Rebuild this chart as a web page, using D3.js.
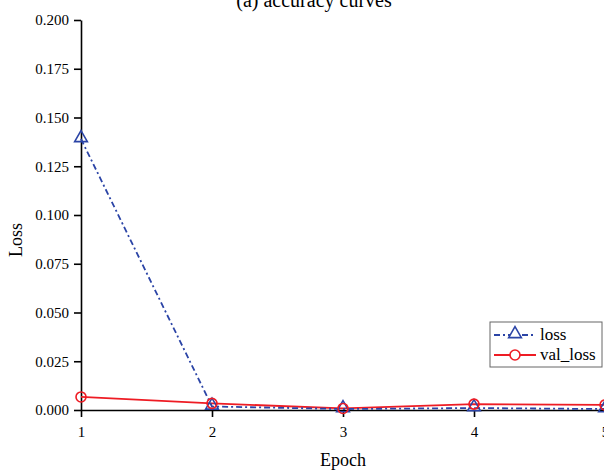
<!DOCTYPE html>
<html>
<head>
<meta charset="utf-8">
<script src="https://cdn.jsdelivr.net/npm/d3@7/dist/d3.min.js"></script>
<style>
  html, body { margin: 0; padding: 0; background: #fff; }
  svg { display: block; font-family: "Liberation Serif", "DejaVu Serif", serif; }
  svg text { font-family: "Liberation Serif", "DejaVu Serif", serif; }
</style>
</head>
<body>
<svg id="chart" width="604" height="471"></svg>
<script>
// ---- data ----
const epochs = [1, 2, 3, 4, 5];
const lossValues = [0.139, 0.0018, 0.0005, 0.0010, 0.0005];
const valLossValues = [0.0067, 0.0034, 0.0008, 0.0030, 0.0026];
const yTicks = [0, 0.025, 0.05, 0.075, 0.1, 0.125, 0.15, 0.175, 0.2];
const seriesNames = ["loss", "val_loss"];

const svg = d3.select("#chart");
const margin = { top: 20, right: -1, bottom: 61, left: 81 };
const width = +svg.attr("width");
const height = +svg.attr("height");
const innerWidth = width - margin.left - margin.right;
const innerHeight = height - margin.top - margin.bottom;

const g = svg.append("g").attr("transform", `translate(${margin.left},${margin.top})`);

const x = d3.scaleLinear().domain([1, 5]).range([0, innerWidth]);
const y = d3.scaleLinear().domain([0, 0.2]).range([innerHeight, 0]);

// title (cut off at top in the original)
svg.append("text")
  .attr("x", 314).attr("y", 7)
  .attr("text-anchor", "middle")
  .attr("font-size", 20)
  .text("(a)  accuracy curves");

// axes
const xAxis = g.append("g")
  .attr("transform", `translate(0,${innerHeight})`)
  .call(d3.axisBottom(x).tickValues(epochs).tickFormat(d3.format("d")).tickSize(7).tickSizeOuter(0));
const yAxis = g.append("g")
  .call(d3.axisLeft(y).tickValues(yTicks).tickFormat(d3.format(".3f")).tickSize(7).tickSizeOuter(0));

[xAxis, yAxis].forEach(a => {
  a.attr("font-family", null).attr("font-size", 15);
  a.selectAll("path, line").attr("stroke", "#000").attr("stroke-width", 1.6);
  a.selectAll("text").attr("fill", "#000");
});
xAxis.selectAll("text").attr("dy", "1.1em");
yAxis.selectAll("text").attr("dx", "-2");

// axis labels
svg.append("text")
  .attr("x", 343).attr("y", 466)
  .attr("text-anchor", "middle").attr("font-size", 18)
  .text("Epoch");
svg.append("text")
  .attr("transform", "rotate(-90)")
  .attr("x", -240).attr("y", 22)
  .attr("text-anchor", "middle").attr("font-size", 18)
  .text("Loss");

const lossData = epochs.map((e, i) => ({ epoch: e, value: lossValues[i] }));
const valData = epochs.map((e, i) => ({ epoch: e, value: valLossValues[i] }));
const line = d3.line().x(d => x(d.epoch)).y(d => y(d.value));

const blue = "#2b44a6";
const red = "#ee1c24";
const triangle = d3.symbol().type(d3.symbolTriangle).size(70);

// val_loss (red, solid, circles)
g.append("path").datum(valData)
  .attr("fill", "none").attr("stroke", red).attr("stroke-width", 1.8)
  .attr("d", line);

// loss (blue, dash-dot, triangles)
g.append("path").datum(lossData)
  .attr("fill", "none").attr("stroke", blue).attr("stroke-width", 1.8)
  .attr("stroke-dasharray", "6,3,2,3")
  .attr("d", line);

g.selectAll(".tri").data(lossData).join("path")
  .attr("class", "tri")
  .attr("transform", d => `translate(${x(d.epoch)},${y(d.value) - 1})`)
  .attr("d", triangle)
  .attr("fill", "none").attr("stroke", blue).attr("stroke-width", 1.6);

g.selectAll(".circ").data(valData).join("circle")
  .attr("class", "circ")
  .attr("cx", d => x(d.epoch)).attr("cy", d => y(d.value))
  .attr("r", 5)
  .attr("fill", "none").attr("stroke", red).attr("stroke-width", 1.6);

// legend
const legend = svg.append("g").attr("transform", "translate(490,322)");
legend.append("rect")
  .attr("width", 112).attr("height", 45)
  .attr("fill", "#fff").attr("stroke", "#666").attr("stroke-width", 1);
seriesNames.forEach((name, i) => {
  const ly = 13 + i * 20;
  const col = i === 0 ? blue : red;
  legend.append("line")
    .attr("x1", 4).attr("x2", 46).attr("y1", ly).attr("y2", ly)
    .attr("stroke", col).attr("stroke-width", 1.8)
    .attr("stroke-dasharray", i === 0 ? "6,3,2,3" : null);
  if (i === 0) {
    legend.append("path").attr("d", triangle)
      .attr("transform", `translate(25,${ly - 1})`)
      .attr("fill", "#fff").attr("stroke", col).attr("stroke-width", 1.6);
  } else {
    legend.append("circle").attr("cx", 25).attr("cy", ly).attr("r", 5)
      .attr("fill", "#fff").attr("stroke", col).attr("stroke-width", 1.6);
  }
  legend.append("text")
    .attr("x", 50).attr("y", ly + 5)
    .attr("font-size", 17)
    .text(name);
});
</script>
</body>
</html>
